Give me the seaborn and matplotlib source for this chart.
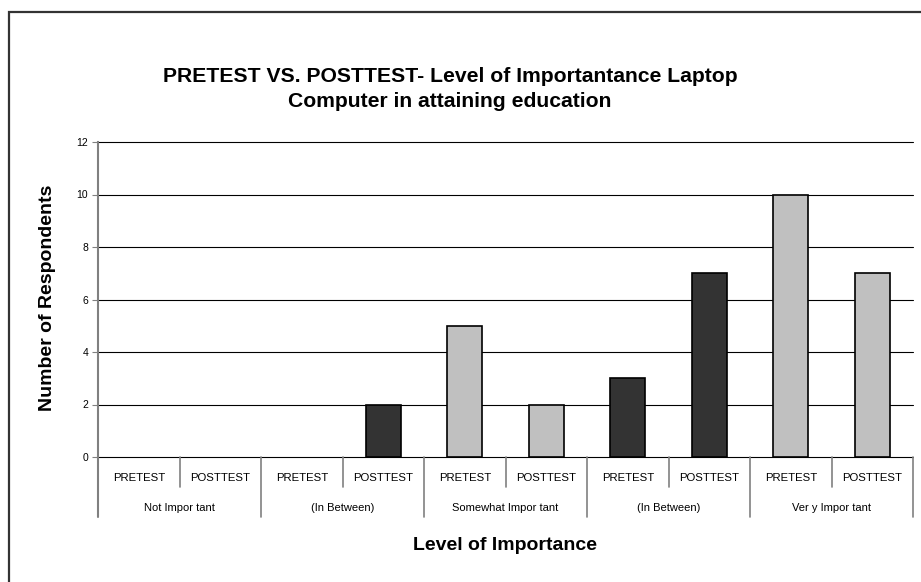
import matplotlib
matplotlib.use("Agg")
import matplotlib.pyplot as plt
import matplotlib.transforms as mtransforms
from matplotlib.patches import Rectangle
import seaborn as sns
import pandas as pd

# Survey counts, grouped by importance level and test phase
groups = ["Not Impor tant", "(In Between)", "Somewhat Impor tant", "(In Between)", "Ver y Impor tant"]
phases = ["PRETEST", "POSTTEST"]
counts = [0, 0, 0, 2, 5, 2, 3, 7, 10, 7]
bar_colors = ["#c0c0c0", "#c0c0c0", "#333333", "#333333", "#c0c0c0",
              "#c0c0c0", "#333333", "#333333", "#c0c0c0", "#c0c0c0"]
y_ticks = [0, 2, 4, 6, 8, 10, 12]

slots = [f"{g}|{p}|{i}" for i, (g, p) in enumerate((g, p) for g in groups for p in phases)]
df = pd.DataFrame({"slot": slots, "count": counts})

sns.set_theme(style="white")
plt.rcParams["font.family"] = ["Liberation Sans", "DejaVu Sans"]
plt.rcParams["text.color"] = "black"
plt.rcParams["axes.labelcolor"] = "black"
plt.rcParams["ytick.color"] = "black"

fig = plt.figure(figsize=(9.21, 5.82), dpi=100)
ax = fig.add_axes([98 / 921, 1 - 457 / 582, (913 - 98) / 921, (457 - 142) / 582])

sns.barplot(data=df, x="slot", y="count", hue="slot", palette=bar_colors,
            legend=False, width=0.43, edgecolor="black", linewidth=1.2,
            saturation=1, ax=ax, zorder=3)
# Empty categories show no bar outline
for patch in ax.patches:
    if patch.get_height() == 0:
        patch.set_linewidth(0)

ax.set_xlim(-0.5, len(counts) - 0.5)
ax.set_ylim(0, 12)
ax.set_yticks(y_ticks)
ax.set_yticklabels([str(t) for t in y_ticks], fontsize=7.5, color="black")
ax.set_xticks([])
ax.set_xlabel("")
ax.set_ylabel("")
ax.tick_params(axis="y", which="major", length=4, width=0.8, color="#808080",
               left=True, pad=3)
for t in y_ticks:
    ax.axhline(t, color="black", linewidth=0.8, zorder=1, clip_on=False)

for side in ["top", "right", "bottom"]:
    ax.spines[side].set_visible(False)
ax.spines["left"].set_color("#808080")
ax.spines["left"].set_linewidth(1.5)
ax.spines["left"].set_zorder(4)

# Two-level category axis drawn below the plot
trans = mtransforms.blended_transform_factory(ax.transData, ax.transAxes)
sub_depth, grp_depth = -0.095, -0.19
for i, s in enumerate(slots):
    phase = s.split("|")[1]
    ax.text(i, -0.067, phase, transform=trans, ha="center", va="center",
            fontsize=8.2, color="black")
for k in range(len(groups)):
    sep = 2 * k + 0.5
    ax.plot([sep, sep], [0, sub_depth], transform=trans, color="#808080",
            linewidth=1.2, clip_on=False)
    ax.text(2 * k + 0.5, -0.162, groups[k], transform=trans, ha="center",
            va="center", fontsize=8, color="black")
for k in range(len(groups) + 1):
    edge = 2 * k - 0.5
    ax.plot([edge, edge], [0, grp_depth], transform=trans, color="#808080",
            linewidth=1.5 if k == 0 else 1.2, clip_on=False)

fig.text(48 / 921, 1 - 298 / 582, "Number of Respondents", rotation=90,
         ha="center", va="center", fontsize=14, fontweight="bold", color="black")
fig.text(505 / 921, 1 - 545 / 582, "Level of Importance", ha="center", va="center",
         fontsize=14, fontweight="bold", color="black")
fig.text(450 / 921, 1 - 89 / 582,
         "PRETEST VS. POSTTEST- Level of Importantance Laptop\nComputer in attaining education",
         ha="center", va="center", fontsize=15.2, fontweight="bold", color="black",
         linespacing=1.45)

# Chart frame
fig.patches.append(Rectangle((9 / 921, -0.1), 1.2, 1 - 12 / 582 + 0.1,
                             transform=fig.transFigure, fill=False,
                             edgecolor="#333333", linewidth=1.6))

fig.savefig("out.png", dpi=100)
